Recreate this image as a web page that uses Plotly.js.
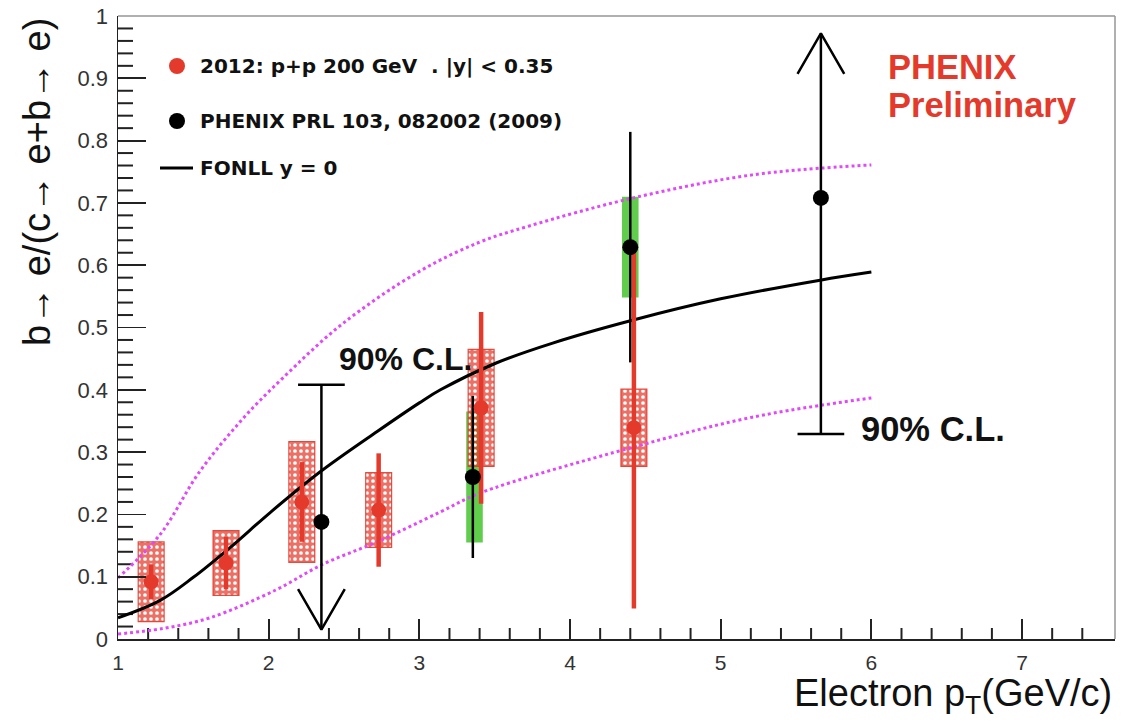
<!DOCTYPE html>
<html>
<head>
<meta charset="utf-8">
<script src="https://cdn.plot.ly/plotly-3.0.1.min.js"></script>
<style>
  html, body { margin: 0; padding: 0; background: #fff; }
  #chart { width: 1129px; height: 728px; }
</style>
</head>
<body>
<div id="chart"></div>
<script>
// ---------------- DATA ----------------
// 2012: p+p 200 GeV, |y| < 0.35 (red)
const redX    = [1.22, 1.717, 2.22, 2.73, 3.41, 4.424];
const redY    = [0.092, 0.122, 0.220, 0.207, 0.371, 0.339];
const redStat = [0.028, 0.042, 0.064, 0.091, 0.154, 0.290];
const redSys  = [0.064, 0.052, 0.097, 0.060, 0.094, 0.062];

// PHENIX PRL 103, 082002 (2009) (black) - measured points
const prlX    = [3.355, 4.40];
const prlY    = [0.260, 0.629];
const prlStat = [0.130, 0.185];
const prlSys  = [0.105, 0.081];
const prlSysX = [3.366, 4.40];

// PHENIX PRL (black) - points with 90% C.L. limits
const limX   = [2.35, 5.665];
const limY   = [0.188, 0.708];
const limCL  = [0.408, 0.329];
const limTip = [0.015, 0.972];

// FONLL y = 0 central curve
const fonllX = [1.0, 1.28, 1.5, 1.74, 2.01, 2.34, 2.72, 3.0, 3.14, 3.51, 3.885, 4.42, 5.0, 5.66, 6.0];
const fonllY = [0.034, 0.062, 0.099, 0.146, 0.203, 0.268, 0.333, 0.379, 0.400, 0.443, 0.475, 0.512, 0.546, 0.576, 0.589];

// FONLL uncertainty band edges (magenta dotted)
const upX = [1.0, 1.28, 1.54, 1.83, 2.09, 2.49, 3.0, 3.4, 3.73, 4.42, 5.21, 6.0];
const upY = [0.098, 0.168, 0.268, 0.354, 0.418, 0.506, 0.590, 0.637, 0.663, 0.708, 0.745, 0.761];
const loX = [1.0, 1.3, 1.61, 2.05, 2.36, 2.72, 3.14, 3.40, 4.42, 5.21, 6.0];
const loY = [0.008, 0.017, 0.034, 0.079, 0.120, 0.156, 0.204, 0.234, 0.308, 0.356, 0.387];

// Tick labels
const yTickVals = [0, 0.1, 0.2, 0.3, 0.4, 0.5, 0.6, 0.7, 0.8, 0.9, 1];
const yTickText = ['0', '0.1', '0.2', '0.3', '0.4', '0.5', '0.6', '0.7', '0.8', '0.9', '1'];
const xTickVals = [1, 2, 3, 4, 5, 6, 7];
const xTickText = ['1', '2', '3', '4', '5', '6', '7'];

// ---------------- STYLE ----------------
const RED = 'rgb(228,58,44)';
const GREEN = 'rgb(96,205,76)';
const MAGENTA = 'rgb(226,72,250)';
const RED_BOX_W = 0.172;
const GREEN_BOX_W = 0.11;
const CL_BAR_HALF = 0.155;
const ARM_DX = 0.155;
const ARM_DY = 0.065;
const FONT = 'Liberation Sans, Arial, Helvetica, sans-serif';
const BFONT = 'DejaVu Sans, Liberation Sans, Arial, sans-serif';
const X_RANGE = [1, 7.617];
const Y_RANGE = [0, 1];

// plot-area pixel helpers (plot area: x 118..1115, y 16..639)
const L = 118, R = 1115, T = 16, B = 639;
const px = p => (p - L) / (R - L);
const py = p => (B - p) / (B - T);

// minor tick positions (axis decoration) and their lengths in axis units
const yMinor = [], xMinor = [];
for (let i = 1; i < 50; i++) { if (i % 5 !== 0) yMinor.push(Math.round(i * 2) / 100); }
for (let i = 1; i < 33; i++) { if (i % 5 !== 0) xMinor.push(Math.round(10 + i * 2) / 10); }
const X_MINOR_LEN = 11 * (Y_RANGE[1] - Y_RANGE[0]) / (B - T);   // 11 px, in y units
const Y_MINOR_LEN = 15 * (X_RANGE[1] - X_RANGE[0]) / (R - L);   // 15 px, in x units

// ---------------- TRACES ----------------
const traces = [];

// green systematic boxes (PRL)
traces.push({
  type: 'bar', x: prlSysX,
  y: prlSys.map(s => 2 * s),
  base: prlY.map((v, i) => v - prlSys[i]),
  width: prlX.map(() => GREEN_BOX_W),
  marker: { color: GREEN, line: { width: 0 } },
  hoverinfo: 'skip', showlegend: false
});

// red systematic boxes (dotted hatch)
traces.push({
  type: 'bar', x: redX,
  y: redSys.map(s => 2 * s),
  base: redY.map((v, i) => v - redSys[i]),
  width: redX.map(() => RED_BOX_W),
  marker: {
    color: 'rgba(228,58,44,0.72)',
    line: { width: 1.2, color: 'rgba(228,58,44,0.9)' },
    pattern: { shape: '.', fgcolor: '#ffffff', bgcolor: 'rgba(228,58,44,0.72)', size: 6, solidity: 0.3, fillmode: 'replace' }
  },
  hoverinfo: 'skip', showlegend: false
});

// minor ticks (ROOT style, inside the frame)
const mtX = [], mtY = [];
xMinor.forEach(v => { mtX.push(v, v, null); mtY.push(Y_RANGE[0], Y_RANGE[0] + X_MINOR_LEN, null); });
yMinor.forEach(v => { mtX.push(X_RANGE[0], X_RANGE[0] + Y_MINOR_LEN, null); mtY.push(v, v, null); });
traces.push({
  type: 'scatter', mode: 'lines', x: mtX, y: mtY,
  line: { color: '#222', width: 2 }, cliponaxis: false,
  hoverinfo: 'skip', showlegend: false
});

// magenta band edges
traces.push({
  type: 'scatter', mode: 'lines', x: upX, y: upY,
  line: { color: MAGENTA, width: 3, dash: '3px,3px', shape: 'spline', smoothing: 1 },
  hoverinfo: 'skip', showlegend: false
});
traces.push({
  type: 'scatter', mode: 'lines', x: loX, y: loY,
  line: { color: MAGENTA, width: 3, dash: '3px,3px', shape: 'spline', smoothing: 1 },
  hoverinfo: 'skip', showlegend: false
});

// FONLL central
traces.push({
  type: 'scatter', mode: 'lines', x: fonllX, y: fonllY,
  line: { color: '#000', width: 3, shape: 'spline', smoothing: 1 },
  hoverinfo: 'skip', showlegend: false
});

// limit lines: vertical line from C.L. to arrow tip, C.L. bar, arrow head
const limLX = [], limLY = [];
limX.forEach((x, i) => {
  const cl = limCL[i], tip = limTip[i];
  const dir = tip > cl ? 1 : -1;
  limLX.push(x, x, null); limLY.push(cl, tip, null);
  limLX.push(x - CL_BAR_HALF, x + CL_BAR_HALF, null); limLY.push(cl, cl, null);
  limLX.push(x - ARM_DX, x, x + ARM_DX, null);
  limLY.push(tip - dir * ARM_DY, tip, tip - dir * ARM_DY, null);
});
traces.push({
  type: 'scatter', mode: 'lines', x: limLX, y: limLY,
  line: { color: '#000', width: 2.5 },
  hoverinfo: 'skip', showlegend: false
});

// black stat error bars (PRL)
const prlEX = [], prlEY = [];
prlX.forEach((x, i) => {
  prlEX.push(x, x, null);
  prlEY.push(prlY[i] - prlStat[i], prlY[i] + prlStat[i], null);
});
traces.push({
  type: 'scatter', mode: 'lines', x: prlEX, y: prlEY,
  line: { color: '#000', width: 2.5 },
  hoverinfo: 'skip', showlegend: false
});

// red points with stat errors
traces.push({
  type: 'scatter', mode: 'markers', x: redX, y: redY,
  marker: { color: RED, size: 15, symbol: 'circle' },
  error_y: { type: 'data', array: redStat, visible: true, color: RED, thickness: 4.5, width: 0 },
  hoverinfo: 'x+y', showlegend: false
});

// black points (all PRL)
traces.push({
  type: 'scatter', mode: 'markers',
  x: limX.concat(prlX), y: limY.concat(prlY),
  marker: { color: '#000', size: 16, symbol: 'circle' },
  hoverinfo: 'x+y', showlegend: false
});

// ---------------- LAYOUT ----------------
const ann = [];
function text(t, xpx, ypx, size, opts) {
  ann.push(Object.assign({
    text: t, xref: 'paper', yref: 'paper', x: px(xpx), y: py(ypx),
    xanchor: 'left', yanchor: 'middle', showarrow: false,
    font: { family: FONT, size: size, color: '#111' }
  }, opts || {}));
}
// legend texts
const legFont = { family: BFONT, size: 20, color: '#111', weight: 'bold' };
text('2012: p+p 200 GeV  . |y| &lt; 0.35', 198, 66, 20, { font: legFont });
text('PHENIX PRL 103, 082002 (2009)', 198, 121, 20, { font: legFont });
text('FONLL y = 0', 198, 168, 20, { font: legFont });
// labels in the plot
text('<b>PHENIX</b>', 886, 67, 34.5, { font: { family: FONT, size: 34.5, color: RED } });
text('<b>Preliminary</b>', 886, 105, 34.5, { font: { family: FONT, size: 34.5, color: RED } });
text('<b>90% C.L.</b>', 337, 359, 32);
text('<b>90% C.L.</b>', 859, 429, 34.5);
// axis titles
ann.push({
  text: 'b→ e/(c→ e+b→ e)', xref: 'paper', yref: 'paper',
  x: px(37), y: py(16), xanchor: 'center', yanchor: 'top', textangle: -90,
  showarrow: false, font: { family: FONT, size: 38, color: '#111' }
});
ann.push({
  text: 'Electron p<sub>T</sub>(GeV/c)', xref: 'paper', yref: 'paper',
  x: px(1114), y: py(696), xanchor: 'right', yanchor: 'middle',
  showarrow: false, font: { family: FONT, size: 38, color: '#111' }
});

const shapes = [
  { type: 'line', xref: 'paper', yref: 'paper', x0: 0, x1: 1, y0: 1, y1: 1, line: { color: 'rgb(150,150,150)', width: 1.5 } },
  { type: 'line', xref: 'paper', yref: 'paper', x0: 1, x1: 1, y0: 0, y1: 1, line: { color: 'rgb(150,150,150)', width: 1.5 } },
  { type: 'circle', xref: 'paper', yref: 'paper', xsizemode: 'pixel', ysizemode: 'pixel',
    xanchor: px(177), yanchor: py(66), x0: -8, x1: 8, y0: -8, y1: 8,
    fillcolor: RED, line: { width: 0 } },
  { type: 'circle', xref: 'paper', yref: 'paper', xsizemode: 'pixel', ysizemode: 'pixel',
    xanchor: px(177), yanchor: py(121), x0: -8, x1: 8, y0: -8, y1: 8,
    fillcolor: '#000', line: { width: 0 } },
  { type: 'line', xref: 'paper', yref: 'paper', x0: px(160), x1: px(193), y0: py(168), y1: py(168),
    line: { color: '#000', width: 3 } }
];

const layout = {
  width: 1129, height: 728,
  margin: { l: L, r: 1129 - R, t: T, b: 728 - B, pad: 0 },
  paper_bgcolor: '#fff', plot_bgcolor: '#fff',
  barmode: 'overlay',
  showlegend: false,
  xaxis: {
    range: X_RANGE, showgrid: false, zeroline: false,
    showline: true, linecolor: '#222', linewidth: 1.5,
    ticks: 'inside', ticklen: 20, tickwidth: 1.8, tickcolor: '#222',
    tickmode: 'array', tickvals: xTickVals, ticktext: xTickText,
    tickfont: { family: FONT, size: 21, color: '#333' },
    ticklabelstandoff: 4
  },
  yaxis: {
    range: Y_RANGE, showgrid: false, zeroline: false,
    showline: true, linecolor: '#222', linewidth: 1.5,
    ticks: 'inside', ticklen: 28, tickwidth: 1.8, tickcolor: '#222',
    tickmode: 'array', tickvals: yTickVals, ticktext: yTickText,
    tickfont: { family: FONT, size: 22, color: '#333' },
    ticklabelstandoff: 4
  },
  annotations: ann,
  shapes: shapes
};

Plotly.newPlot('chart', traces, layout, { displayModeBar: false, staticPlot: true });
</script>
</body>
</html>
